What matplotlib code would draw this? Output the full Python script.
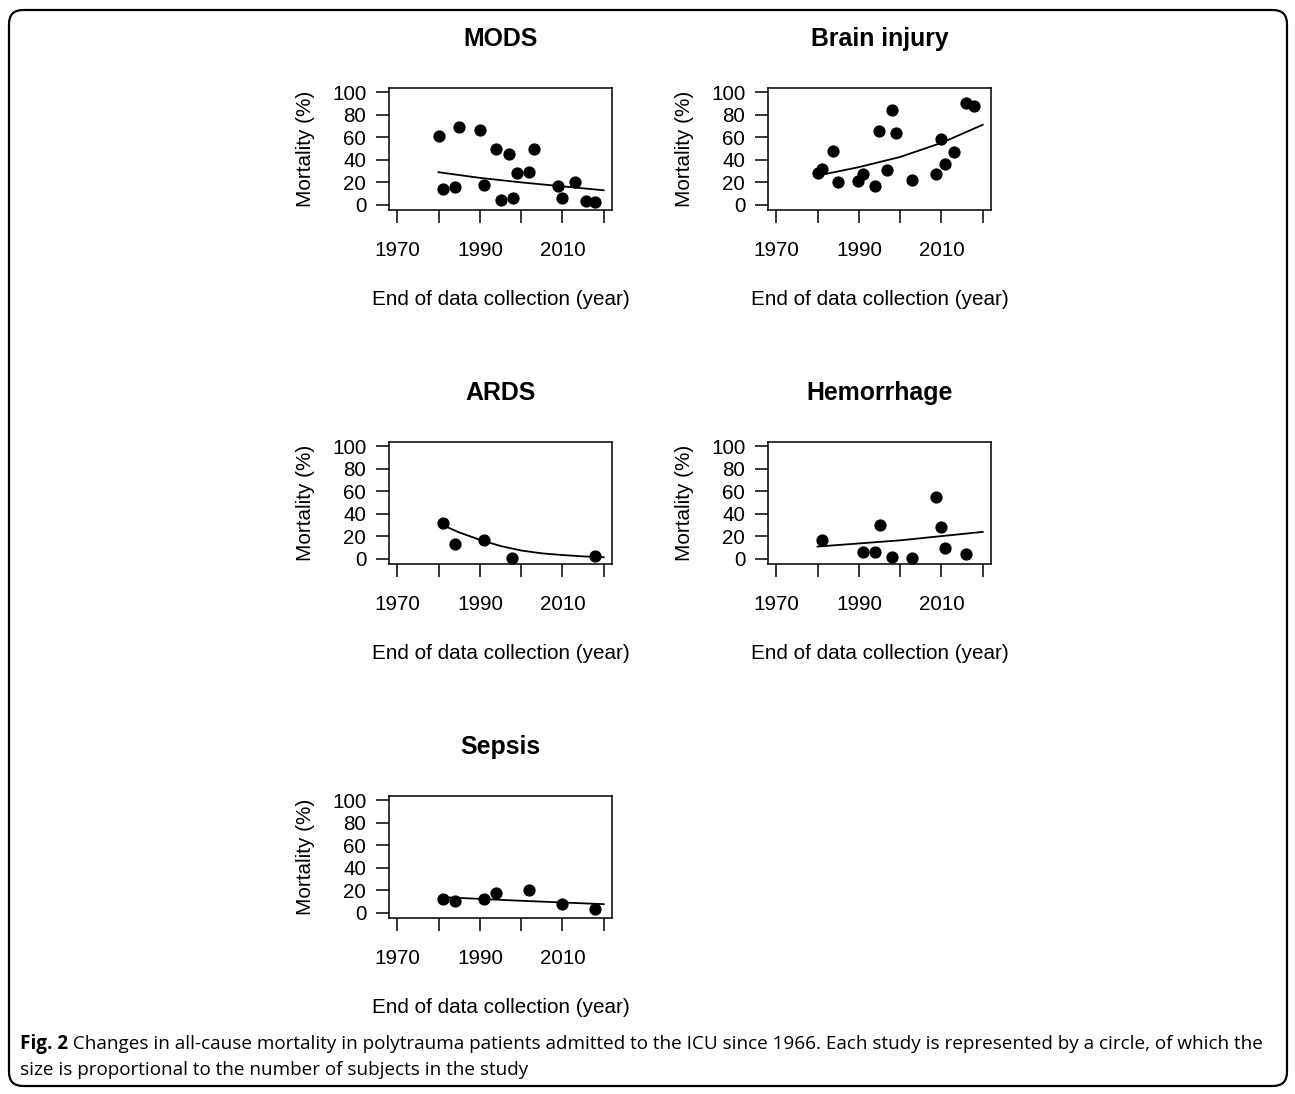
import matplotlib
matplotlib.use("Agg")
import matplotlib.pyplot as plt
from matplotlib.patches import FancyBboxPatch

# ---- data (end of data collection year, mortality %) ----
mods_year = [1980, 1981, 1984, 1985, 1990, 1991, 1994, 1995, 1997, 1998,
             1999, 2002, 2003, 2009, 2010, 2013, 2015.7, 2018]
mods_mort = [61, 14, 16, 69, 66, 18, 50, 4, 45, 6.5, 28, 29, 50, 17, 6.5, 20, 3.5, 3]
mods_fit_year = [1980, 1990, 2000, 2010, 2020]
mods_fit_mort = [29, 24, 20, 16.5, 13]

brain_year = [1980, 1981, 1983.8, 1984.9, 1989.7, 1990.9, 1994, 1994.9, 1996.9,
              1998.1, 1999, 2002.9, 2008.8, 2010, 2010.9, 2013, 2016, 2017.9]
brain_mort = [28, 32, 48, 20, 21.5, 27.5, 16.5, 65.5, 31, 84, 63.5, 22.5, 27, 58,
              36.5, 46.5, 90, 87.5]
brain_fit_year = [1980, 1990, 2000, 2010, 2020]
brain_fit_mort = [26, 33.5, 42.5, 55, 71]

ards_year = [1981, 1984, 1991, 1997.9, 2017.8]
ards_mort = [31.5, 13.5, 16.5, 0.8, 2.7]
ards_fit_year = [1981, 1985, 1990, 1995, 2000, 2005, 2010, 2015, 2020]
ards_fit_mort = [30, 23.5, 17, 11.5, 7.5, 5, 3.5, 2.3, 1.5]

hem_year = [1981.1, 1991, 1994, 1995, 1998.1, 2002.9, 2008.8, 2009.9, 2010.9, 2016]
hem_mort = [17, 6, 6.2, 30.5, 1.8, 0.9, 54.5, 28, 9.3, 4.2]
hem_fit_year = [1980, 2000, 2020]
hem_fit_mort = [11, 16.5, 24]

sepsis_year = [1981, 1984, 1991, 1994, 2001.8, 2010, 2017.9]
sepsis_mort = [12.8, 11, 12.5, 17.3, 20.6, 7.8, 3.3]
sepsis_fit_year = [1981, 2000, 2020]
sepsis_fit_mort = [14, 10.8, 7.8]

titles = ["MODS", "Brain injury", "ARDS", "Hemorrhage", "Sepsis"]
x_ticks = [1970, 1980, 1990, 2000, 2010, 2020]
x_ticklabels = ["1970", "", "1990", "", "2010", ""]
y_ticks = [0, 20, 40, 60, 80, 100]

caption_bold = "Fig. 2"
caption_l1 = (" Changes in all-cause mortality in polytrauma patients admitted to the ICU "
              "since 1966. Each study is represented by a circle, of which the")
caption_l2 = "size is proportional to the number of subjects in the study"

plt.rcParams['font.family'] = ['Liberation Sans', 'DejaVu Sans']

W, H = 1295, 1094
fig = plt.figure(figsize=(W / 100, H / 100), dpi=100)


def px_axes(left, top, w, h):
    return fig.add_axes([left / W, 1 - (top + h) / H, w / W, h / H])


# frame with rounded corners, drawn in pixel space
bg = fig.add_axes([0, 0, 1, 1], zorder=-1)
bg.set_xlim(0, W)
bg.set_ylim(H, 0)
bg.axis("off")
bg.add_patch(FancyBboxPatch((9, 10), 1278, 1076,
                            boxstyle="round,pad=0,rounding_size=14",
                            fc="white", ec="black", lw=1.6))

panels = [
    (mods_year, mods_mort, mods_fit_year, mods_fit_mort, 389, 87.5),
    (brain_year, brain_mort, brain_fit_year, brain_fit_mort, 768, 87.5),
    (ards_year, ards_mort, ards_fit_year, ards_fit_mort, 389, 441.5),
    (hem_year, hem_mort, hem_fit_year, hem_fit_mort, 768, 441.5),
    (sepsis_year, sepsis_mort, sepsis_fit_year, sepsis_fit_mort, 389, 795.5),
]

fs = 14.9
for title, (yr, mort, fyr, fmort, left, top) in zip(titles, panels):
    ax = px_axes(left, top, 223, 122)
    ax.plot(fyr, fmort, color="black", lw=1.3)
    ax.plot(yr, mort, "o", color="black", ms=7.8, mec="black")
    ax.set_xlim(1968, 2022)
    ax.set_ylim(-4, 104)
    ax.set_xticks(x_ticks)
    ax.set_xticklabels(x_ticklabels)
    ax.set_yticks(y_ticks)
    ax.tick_params(direction="out", length=9.4, width=1.1, labelsize=fs, colors="black")
    ax.tick_params(axis="x", pad=13)
    ax.tick_params(axis="y", pad=7)
    for s in ax.spines.values():
        s.set_linewidth(1.1)
    ax.set_title(title, fontsize=fs * 1.2, fontweight="bold", pad=30)
    ax.set_xlabel("End of data collection (year)", fontsize=fs, labelpad=22)
    ax.set_ylabel("Mortality (%)", fontsize=fs, labelpad=12)

# caption
cap_font = ["Open Sans", "DejaVu Sans"]
cap_fs = 13.6
t1 = fig.text(20 / W, 1 - 1044 / H, caption_bold, fontsize=cap_fs, fontweight="bold",
              family=cap_font, va="center", ha="left")
fig.canvas.draw()
bb = t1.get_window_extent()
fig.text(bb.x1 / W, 1 - 1044 / H, caption_l1, fontsize=cap_fs, family=cap_font,
         va="center", ha="left")
fig.text(20 / W, 1 - 1070 / H, caption_l2, fontsize=cap_fs, family=cap_font,
         va="center", ha="left")

fig.savefig("out.png", dpi=100)
